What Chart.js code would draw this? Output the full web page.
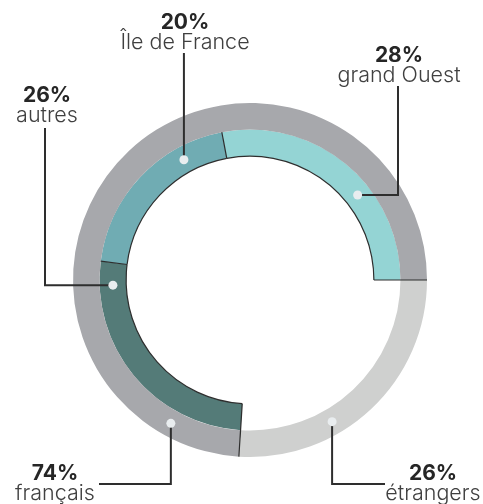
<!DOCTYPE html>
<html>
<head>
<meta charset="utf-8">
<script src="https://cdn.jsdelivr.net/npm/chart.js@4/dist/chart.umd.min.js"></script>
<style>
  html, body { margin: 0; padding: 0; background: #fff; }
  #wrap { position: relative; width: 483px; height: 504px; }
</style>
</head>
<body>
<div id="wrap"><canvas id="ring"></canvas></div>
<script>
// outer ring: origin of the people
const originLabels = ["étrangers", "français"];
const originValues = [26, 74];
const originColors = ["#cfd0cf", "#a7a8ac"];

// inner ring: split of the "français" part (first slot is the étrangers gap)
const regionLabels = ["", "autres", "Île de France", "grand Ouest"];
const regionValues = [26, 26, 20, 28];
const regionColors = ["rgba(0,0,0,0)", "#547b78", "#70acb3", "#94d4d4"];

// callouts: which ring / slice, where on the slice the dot sits, where the label goes
const callouts = [
  { ds: 1, idx: 2, frac: 0.75, pct: "20%", name: "Île de France", tx: 185, ty: 29, mode: "vh", ex: null, ey: 53 },
  { ds: 1, idx: 3, frac: 0.62, pct: "28%", name: "grand Ouest", tx: 399, ty: 62, mode: "hv", ex: 398, ey: 86 },
  { ds: 1, idx: 1, frac: 0.90, pct: "26%", name: "autres", tx: 47, ty: 102, mode: "hv", ex: 45, ey: 128 },
  { ds: 0, idx: 1, frac: 0.095, pct: "74%", name: "français", tx: 55, ty: 480, mode: "vh", ex: 99, ey: 484 },
  { ds: 0, idx: 0, frac: 0.64, pct: "26%", name: "étrangers", tx: 433, ty: 480, mode: "vh", ex: 385, ey: 484 }
];

const lineColor = "#2e2e2e";

// thin dark outlines on the inner ring, like the print version
const outlinePlugin = {
  id: "outline",
  afterDatasetsDraw(chart) {
    const ctx = chart.ctx;
    const outer = chart.getDatasetMeta(0).data;
    const inner = chart.getDatasetMeta(1).data;
    const R = outer[0].outerRadius;
    ctx.save();
    ctx.strokeStyle = lineColor;
    ctx.lineWidth = 1.2;
    const radial = (a, r0, r1, cx, cy) => {
      ctx.beginPath();
      ctx.moveTo(cx + Math.cos(a) * r0, cy + Math.sin(a) * r0);
      ctx.lineTo(cx + Math.cos(a) * r1, cy + Math.sin(a) * r1);
      ctx.stroke();
    };
    for (let i = 1; i < inner.length; i++) {
      const arc = inner[i];
      ctx.beginPath();
      ctx.arc(arc.x, arc.y, arc.innerRadius, arc.startAngle, arc.endAngle);
      ctx.stroke();
      const first = i === 1;
      const last = i === inner.length - 1;
      radial(arc.startAngle, arc.innerRadius, first ? R : arc.outerRadius, arc.x, arc.y);
      if (last) radial(arc.endAngle, arc.innerRadius, R, arc.x, arc.y);
    }
    ctx.restore();
  }
};

// leader lines, dots and labels
const calloutPlugin = {
  id: "callouts",
  afterDraw(chart) {
    const ctx = chart.ctx;
    ctx.save();
    callouts.forEach((c) => {
      const arc = chart.getDatasetMeta(c.ds).data[c.idx];
      const a = arc.startAngle + (arc.endAngle - arc.startAngle) * c.frac;
      const r = (arc.innerRadius + arc.outerRadius) / 2;
      const dx = arc.x + Math.cos(a) * r;
      const dy = arc.y + Math.sin(a) * r;
      const ex = c.ex === null ? dx : c.ex;
      ctx.strokeStyle = lineColor;
      ctx.lineWidth = 2;
      ctx.beginPath();
      ctx.moveTo(dx, dy);
      if (c.mode === "hv") ctx.lineTo(ex, dy);
      else ctx.lineTo(dx, c.ey);
      ctx.lineTo(ex, c.ey);
      ctx.stroke();

      ctx.fillStyle = "#e9edef";
      ctx.beginPath();
      ctx.arc(dx, dy, 4.5, 0, Math.PI * 2);
      ctx.fill();

      ctx.textAlign = "center";
      ctx.textBaseline = "alphabetic";
      ctx.fillStyle = "#262626";
      ctx.font = "700 21px Inter";
      ctx.fillText(c.pct, c.tx, c.ty);
      ctx.fillStyle = "#404040";
      ctx.font = "300 21.5px Inter";
      ctx.fillText(c.name, c.tx, c.ty + 20);
    });
    ctx.restore();
  }
};

new Chart(document.getElementById("ring"), {
  type: "doughnut",
  data: {
    labels: originLabels,
    datasets: [
      { data: originValues, backgroundColor: originColors, borderWidth: 0 },
      { labels: regionLabels, data: regionValues, backgroundColor: regionColors, borderWidth: 0 }
    ]
  },
  options: {
    responsive: true,
    maintainAspectRatio: false,
    animation: false,
    rotation: 90,
    cutout: "70%",
    layout: { padding: { left: 73, right: 56, top: 103, bottom: 47 } },
    plugins: { legend: { display: false }, tooltip: { enabled: false } }
  },
  plugins: [outlinePlugin, calloutPlugin]
});
</script>
</body>
</html>
